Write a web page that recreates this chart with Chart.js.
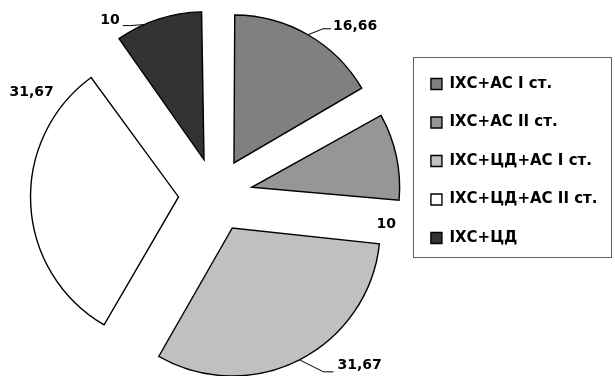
<!DOCTYPE html>
<html>
<head>
<meta charset="utf-8">
<script src="https://cdn.jsdelivr.net/npm/chart.js@4.4.1/dist/chart.umd.min.js"></script>
<style>
  html, body { margin: 0; padding: 0; background: #ffffff; }
  #wrap { width: 615px; height: 376px; }
</style>
</head>
<body>
<div id="wrap"><canvas id="c" width="615" height="376"></canvas></div>
<script>
const categories = ['ІХС+АС I ст.', 'ІХС+АС II ст.', 'ІХС+ЦД+АС I ст.', 'ІХС+ЦД+АС II ст.', 'ІХС+ЦД'];
const values = [16.66, 10, 31.67, 31.67, 10];
const colors = ['#808080', '#969696', '#c0c0c0', '#ffffff', '#333333'];

// label placement style: anchor angle (deg clockwise from top), radius factor, leader path offsets, text offset
const labelLayout = [
  { a: 30,    r: 1,     path: [[15, -6], [23, -6]], tx: 25,  ty: -8.5, align: 'left' },
  { a: 105.4, r: 0.943, path: [],                   tx: 0,   ty: 0,    align: 'center' },
  { a: 153,   r: 1,     path: [[24, 12], [34, 12]], tx: 38,  ty: 6,    align: 'left' },
  { a: 305.4, r: 1.217, path: [],                   tx: 0,   ty: 0,    align: 'center' },
  { a: 336,   r: 1,     path: [[-14, 1], [-21, 1]], tx: -24, ty: -4,   align: 'right' }
];

const FONT = '"DejaVu Sans", sans-serif';
const EXPLODE = 148; // Chart.js translates arcs by offset / 4

// Keep every exploded slice at the same radius (Chart.js enlarges narrow exploded slices)
const evenRadius = {
  id: 'evenRadius',
  beforeDatasetsDraw(chart) {
    const meta = chart.getDatasetMeta(0);
    const base = meta.controller.outerRadius;
    meta.data.forEach(arc => {
      const off = (arc.options.offset || 0) / 4;
      const circ = arc.endAngle - arc.startAngle;
      const fix = 1 - Math.sin(Math.min(Math.PI, circ));
      arc.outerRadius = base - off * fix;
    });
  }
};

const dataLabels = {
  id: 'dataLabels',
  afterDatasetsDraw(chart) {
    const ctx = chart.ctx;
    const meta = chart.getDatasetMeta(0);
    const R = meta.controller.outerRadius;
    ctx.save();
    ctx.font = 'bold 14px ' + FONT;
    ctx.fillStyle = '#000';
    ctx.strokeStyle = '#000';
    ctx.lineWidth = 1;
    meta.data.forEach((arc, i) => {
      const off = (arc.options.offset || 0) / 4;
      const mid = (arc.startAngle + arc.endAngle) / 2;
      const vx = arc.x + Math.cos(mid) * off;
      const vy = arc.y + Math.sin(mid) * off;
      const L = labelLayout[i];
      const th = (L.a - 90) * Math.PI / 180;
      const ax = vx + Math.cos(th) * R * L.r;
      const ay = vy + Math.sin(th) * R * L.r;
      if (L.path.length) {
        ctx.beginPath();
        ctx.moveTo(ax, ay);
        L.path.forEach(([dx, dy]) => ctx.lineTo(ax + dx, ay + dy));
        ctx.stroke();
      }
      ctx.textAlign = L.align;
      ctx.textBaseline = 'middle';
      ctx.fillText(String(values[i]).replace('.', ','), ax + L.tx, ay + L.ty);
    });
    ctx.restore();
  }
};

const legendFrame = {
  id: 'legendFrame',
  afterDraw(chart) {
    const lg = chart.legend;
    if (!lg || !lg.legendHitBoxes || !lg.legendHitBoxes.length) return;
    const hb = lg.legendHitBoxes;
    const first = hb[0], last = hb[hb.length - 1];
    const ctx = chart.ctx;
    ctx.save();
    ctx.strokeStyle = '#606060';
    ctx.lineWidth = 1;
    const l = Math.round(first.left - 18) + 0.5;
    const t = Math.round(first.top - 19.5) + 0.5;
    const r = Math.round(first.left + 180) + 0.5;
    const b = Math.round(last.top + last.height + 11.5) + 0.5;
    ctx.strokeRect(l, t, r - l, b - t);
    ctx.restore();
  }
};

new Chart(document.getElementById('c'), {
  type: 'pie',
  data: {
    labels: categories,
    datasets: [{
      data: values,
      backgroundColor: colors,
      borderColor: '#000000',
      borderWidth: 1.4,
      borderJoinStyle: 'miter',
      offset: EXPLODE,
      hoverOffset: 0
    }]
  },
  options: {
    responsive: false,
    animation: false,
    radius: 148,
    layout: { padding: { left: 23.5, right: 7.5, top: 14, bottom: 0 } },
    plugins: {
      tooltip: { enabled: false },
      legend: {
        position: 'right',
        align: 'start',
        title: { display: true, text: ' ', font: { size: 10 }, padding: { top: 27, bottom: 0 } },
        labels: {
          boxWidth: 11,
          boxHeight: 11,
          padding: 23.5,
          color: '#000',
          font: { family: FONT, size: 15, weight: 'bold' }
        }
      }
    }
  },
  plugins: [evenRadius, dataLabels, legendFrame]
});
</script>
</body>
</html>
